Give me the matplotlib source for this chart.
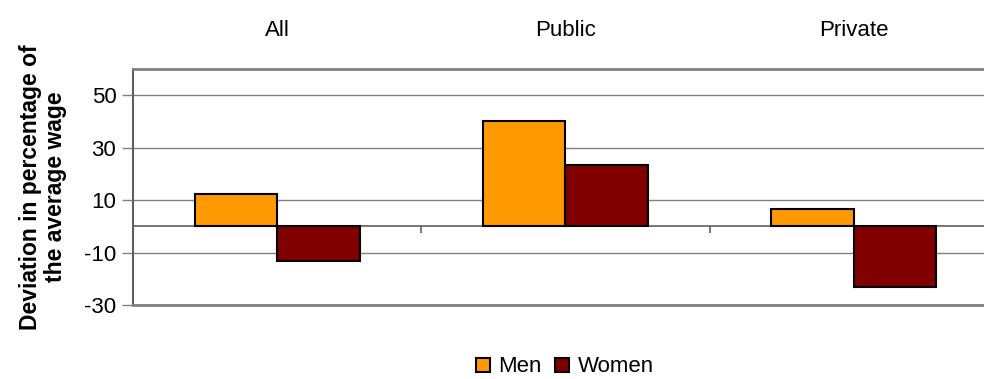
import numpy as np
import matplotlib.pyplot as plt
import matplotlib.transforms as mtransforms

# === Data ===
categories = ["All", "Public", "Private"]
men = [12.2, 40.3, 6.5]
women = [-13.2, 23.2, -23.3]
yticks = [-30, -10, 10, 30, 50]

men_color = "#FF9900"
women_color = "#800000"
grid_color = "#808080"

plt.rcParams['font.family'] = ['Liberation Sans', 'DejaVu Sans']
plt.rcParams['axes.unicode_minus'] = False

# === Figure / axes ===
fig = plt.figure(figsize=(9.84, 3.79), dpi=100)
ax = fig.add_axes([133 / 984, 74 / 379, 865 / 984, 236 / 379])

x = np.arange(len(categories))
w = 0.286
ax.bar(x - w / 2, men, w, color=men_color, edgecolor="black", linewidth=1.5,
       label="Men", zorder=3)
ax.bar(x + w / 2, women, w, color=women_color, edgecolor="black", linewidth=1.5,
       label="Women", zorder=3)

ax.set_xlim(-0.5, len(categories) - 0.5)
ax.set_ylim(-30, 60)
ax.set_yticks(yticks)
ax.set_xticks([])
ax.tick_params(axis="y", labelsize=16, length=8, width=1, color=grid_color, pad=4)
for t in yticks:
    ax.axhline(t, color=grid_color, linewidth=1, zorder=1)

# zero line with category separator ticks
ax.axhline(0, color="#606060", linewidth=1.2, zorder=2)
ax.vlines(x[:-1] + 0.5, -2.6, 0, color="#606060", linewidth=1.2, zorder=2)

for side in ["left", "top", "bottom"]:
    ax.spines[side].set_color(grid_color)
ax.spines["left"].set_color("#606060")
ax.spines["left"].set_linewidth(1.5)
ax.spines["top"].set_linewidth(2)
ax.spines["bottom"].set_linewidth(2)
ax.spines["right"].set_visible(False)

# category labels above the plot
trans = mtransforms.blended_transform_factory(ax.transData, ax.transAxes)
for xi, name in zip(x, categories):
    ax.text(xi, 1.165, name, transform=trans, ha="center", va="center", fontsize=16)

ax.set_ylabel("Deviation in percentage of\nthe average wage", fontsize=16.5,
              fontweight="bold", labelpad=12, linespacing=1.15)

fig.legend(loc="center", bbox_to_anchor=(565 / 984, 12 / 379), ncol=2, frameon=False,
           fontsize=16, handlelength=0.6, handleheight=0.6, handletextpad=0.4,
           columnspacing=0.6, borderaxespad=0, borderpad=0)

fig.savefig("out.png", dpi=100)
